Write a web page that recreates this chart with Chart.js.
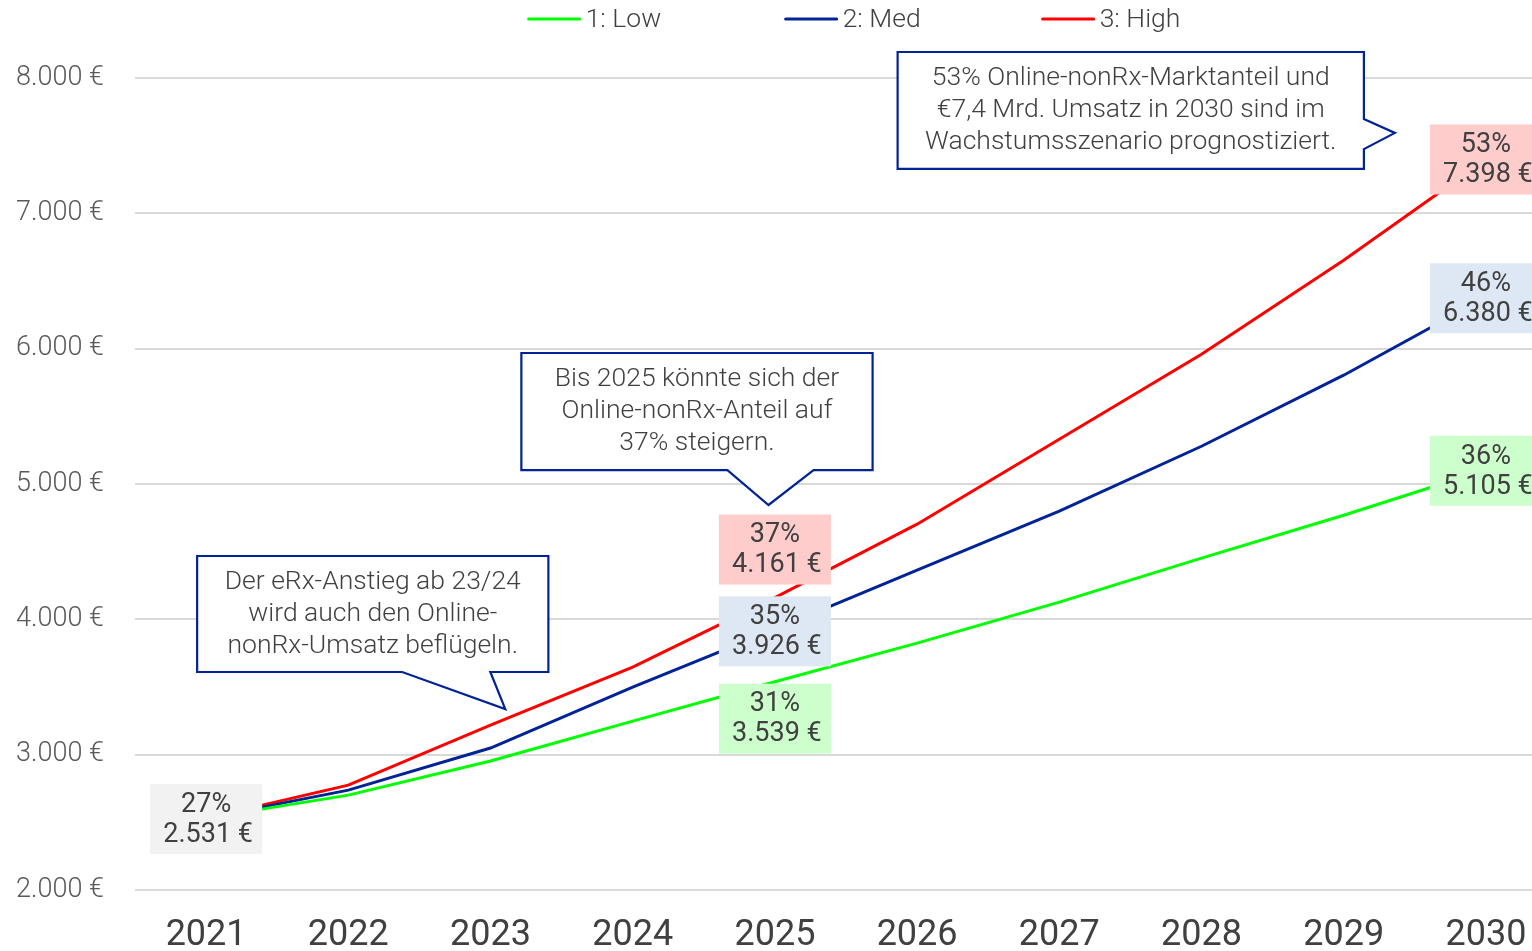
<!DOCTYPE html>
<html>
<head>
<meta charset="utf-8">
<script src="https://cdn.jsdelivr.net/npm/chart.js@4.4.1/dist/chart.umd.min.js"></script>
<style>
  html, body { margin: 0; padding: 0; background: #fff; overflow: hidden; }
  #wrap { position: relative; width: 1557px; height: 951px; }
</style>
</head>
<body>
<div id="wrap"><canvas id="c"></canvas></div>
<script>
// ---- Data ----
const years = ['2021', '2022', '2023', '2024', '2025', '2026', '2027', '2028', '2029', '2030'];
const seriesNames = ['1: Low', '2: Med', '3: High'];
const lowValues  = [2531, 2701, 2953, 3248, 3539, 3824, 4127, 4452, 4769, 5105];
const medValues  = [2531, 2738, 3049, 3499, 3926, 4363, 4799, 5279, 5804, 6380];
const highValues = [2531, 2775, 3219, 3647, 4161, 4703, 5331, 5959, 6653, 7398];
const lowShare  = [27, null, null, null, 31, null, null, null, null, 36];
const medShare  = [null, null, null, null, 35, null, null, null, null, 46];
const highShare = [null, null, null, null, 37, null, null, null, null, 53];
const yTicks = [2000, 3000, 4000, 5000, 6000, 7000, 8000];
const callout1Text = ['Der eRx-Anstieg ab 23/24', 'wird auch den Online-', 'nonRx-Umsatz beflügeln.'];
const callout2Text = ['Bis 2025 könnte sich der', 'Online-nonRx-Anteil auf', '37% steigern.'];
const callout3Text = ['53% Online-nonRx-Marktanteil und', '€7,4 Mrd. Umsatz in 2030 sind im', 'Wachstumsszenario prognostiziert.'];

const GREEN = '#00FF00', NAVY = '#002395', RED = '#FF0000';
const TEXT = '#404040';

function fmtEuro(v) {
  const s = String(Math.round(v)).replace(/\B(?=(\d{3})+(?!\d))/g, '.');
  return s + ' €';
}

// data label boxes plugin
const labelPlugin = {
  id: 'valueLabels',
  afterDatasetsDraw(chart, args, opts) {
    const ctx = chart.ctx;
    const shares = [lowShare, medShare, highShare];
    ctx.save();
    opts.boxes.forEach(b => {
      const meta = chart.getDatasetMeta(b.ds);
      const pt = meta.data[b.idx];
      const val = chart.data.datasets[b.ds].data[b.idx];
      const share = shares[b.ds][b.idx];
      const cx = pt.x, cy = pt.y + (b.dy || 0);
      const w = 112, h = 70;
      ctx.fillStyle = b.bg;
      ctx.fillRect(cx - w / 2, cy - h / 2, w, h);
      ctx.fillStyle = TEXT;
      ctx.font = '400 27px Roboto';
      ctx.textAlign = 'center';
      ctx.textBaseline = 'middle';
      ctx.fillText(share + '%', cx, cy - 14);
      ctx.fillText(fmtEuro(val), cx + 2, cy + 16);
    });
    ctx.restore();
  }
};

// callouts plugin (positions given in axis units)
const calloutPlugin = {
  id: 'callouts',
  afterDraw(chart, args, opts) {
    const ctx = chart.ctx;
    const xs = chart.scales.x, ys = chart.scales.y;
    const X = v => xs.getPixelForValue(v), Y = v => ys.getPixelForValue(v);
    ctx.save();
    opts.items.forEach(c => {
      const x1 = X(c.box[0]), x2 = X(c.box[1]), y1 = Y(c.box[2]), y2 = Y(c.box[3]);
      ctx.beginPath();
      if (c.side === 'bottom') {
        const ta = X(c.tail[0]), tb = X(c.tail[1]);
        ctx.moveTo(x1, y1); ctx.lineTo(x2, y1); ctx.lineTo(x2, y2);
        ctx.lineTo(tb, y2); ctx.lineTo(X(c.tip[0]), Y(c.tip[1])); ctx.lineTo(ta, y2);
        ctx.lineTo(x1, y2); ctx.closePath();
      } else {
        const ta = Y(c.tail[0]), tb = Y(c.tail[1]);
        ctx.moveTo(x1, y1); ctx.lineTo(x2, y1); ctx.lineTo(x2, ta);
        ctx.lineTo(X(c.tip[0]), Y(c.tip[1])); ctx.lineTo(x2, tb);
        ctx.lineTo(x2, y2); ctx.lineTo(x1, y2); ctx.closePath();
      }
      ctx.fillStyle = '#FFFFFF';
      ctx.fill();
      ctx.lineWidth = 2.2;
      ctx.strokeStyle = NAVY;
      ctx.lineJoin = 'miter';
      ctx.stroke();
      ctx.fillStyle = TEXT;
      ctx.font = '300 26.5px Roboto';
      ctx.textAlign = 'center';
      ctx.textBaseline = 'middle';
      const cx = (x1 + x2) / 2, cy = (y1 + y2) / 2;
      const lh = 32;
      c.text.forEach((t, i) => {
        ctx.fillText(t, cx, cy + (i - (c.text.length - 1) / 2) * lh);
      });
    });
    ctx.restore();
  }
};

// custom legend plugin (drawn from dataset labels/colours)
const legendPlugin = {
  id: 'fixedLegend',
  afterDraw(chart, args, opts) {
    const ctx = chart.ctx;
    const ds = chart.data.datasets;
    ctx.save();
    ctx.font = '300 26.5px Roboto';
    const lineW = 53, gap = 5, pitch = 257;
    const lastW = lineW + gap + ctx.measureText(ds[ds.length - 1].label).width;
    const total = pitch * (ds.length - 1) + lastW;
    const mid = (chart.chartArea.left + chart.chartArea.right) / 2 + 8;
    let x = mid - total / 2;
    const y = 19;
    ds.forEach(d => {
      ctx.strokeStyle = d.borderColor;
      ctx.lineWidth = 3;
      ctx.lineCap = 'round';
      ctx.beginPath();
      ctx.moveTo(x + 1, y); ctx.lineTo(x + lineW - 1, y);
      ctx.stroke();
      ctx.fillStyle = TEXT;
      ctx.textAlign = 'left';
      ctx.textBaseline = 'middle';
      ctx.fillText(d.label, x + lineW + gap, y + 1);
      x += pitch;
    });
    ctx.restore();
  }
};

new Chart(document.getElementById('c'), {
  type: 'line',
  data: {
    labels: years,
    datasets: [
      { label: seriesNames[0], data: lowValues,  borderColor: GREEN, backgroundColor: GREEN, borderWidth: 3, pointRadius: 0, tension: 0 },
      { label: seriesNames[1], data: medValues,  borderColor: NAVY,  backgroundColor: NAVY,  borderWidth: 3, pointRadius: 0, tension: 0 },
      { label: seriesNames[2], data: highValues, borderColor: RED,   backgroundColor: RED,   borderWidth: 3, pointRadius: 0, tension: 0 }
    ]
  },
  options: {
    responsive: true,
    maintainAspectRatio: false,
    animation: false,
    layout: { padding: { top: 78, right: 0, bottom: 0, left: 0 } },
    plugins: {
      legend: { display: false },
      tooltip: { enabled: false },
      valueLabels: {
        boxes: [
          { ds: 0, idx: 0, bg: '#F2F2F2', dy: 1 },
          { ds: 2, idx: 4, bg: '#FFCCCC', dy: -48 },
          { ds: 1, idx: 4, bg: '#DEE8F4', dy: 2 },
          { ds: 0, idx: 4, bg: '#CCFFCC', dy: 37 },
          { ds: 2, idx: 9, bg: '#FFCCCC', dy: 0 },
          { ds: 1, idx: 9, bg: '#DEE8F4', dy: 1 },
          { ds: 0, idx: 9, bg: '#CCFFCC', dy: 1 }
        ]
      },
      callouts: {
        items: [
          { side: 'bottom', box: [-0.063, 2.407, 4468, 3611], tail: [1.379, 1.999], tip: [2.104, 3337], text: callout1Text },
          { side: 'bottom', box: [2.217, 4.687, 5968, 5103], tail: [3.666, 4.272], tip: [3.955, 4845], text: callout2Text },
          { side: 'right',  box: [4.863, 8.142, 8192, 7328], tail: [7697, 7475], tip: [8.360, 7594], text: callout3Text }
        ]
      }
    },
    scales: {
      x: {
        offset: true,
        grid: { display: false, drawTicks: false },
        border: { display: false },
        ticks: { color: TEXT, font: { family: 'Roboto', size: 36, weight: 400 }, padding: 24, maxRotation: 0, autoSkip: false },
        afterFit(s) { s.height = 61; }
      },
      y: {
        min: 2000, max: 8000,
        afterBuildTicks(s) { s.ticks = yTicks.map(v => ({ value: v })); },
        grid: { color: '#D9D9D9', lineWidth: 2, drawTicks: false },
        border: { display: false },
        ticks: { color: '#595959', font: { family: 'Roboto', size: 27, weight: 300 }, padding: 31, callback: v => fmtEuro(v) },
        afterFit(s) { s.width = 135; }
      }
    }
  },
  plugins: [labelPlugin, calloutPlugin, legendPlugin]
});
</script>
</body>
</html>
